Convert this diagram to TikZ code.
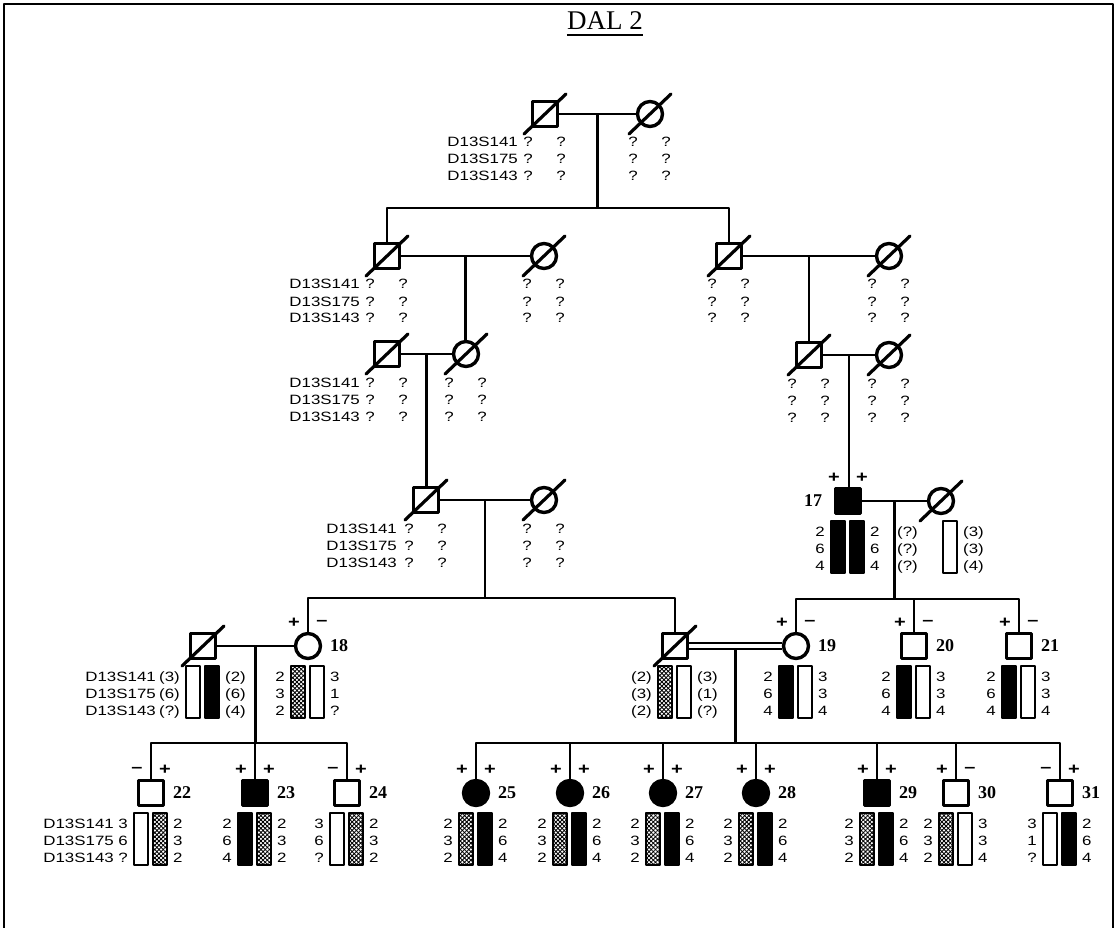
\documentclass[tikz,border=0pt]{standalone}
\usepackage{fontspec}
\setmainfont{Liberation Serif}
\newfontfamily\labfont[FakeStretch=1.25]{Liberation Sans}
\usetikzlibrary{calc, patterns.meta}

\begin{document}
\begin{tikzpicture}[x=1pt, y=-1pt, line join=round,
    conn/.style={line width=2.3pt},
    person/.style={draw, line width=3.4pt, minimum size=25pt, inner sep=0pt},
    male/.style={person, rectangle},
    female/.style={person, circle},
    aff/.style={fill=black},
    slash/.style={line width=3.2pt, line cap=round},
    lab/.style={font=\labfont\fontsize{13.5}{15}\selectfont, inner sep=0pt, anchor=base east},
    num/.style={font=\labfont\fontsize{13.5}{15}\selectfont, inner sep=0pt, anchor=base},
    sign/.style={font=\labfont\bfseries\fontsize{16}{18}\selectfont, inner sep=0pt},
    idlab/.style={font=\bfseries\fontsize{18}{20}\selectfont, inner sep=0pt},
    heading/.style={font=\fontsize{27}{30}\selectfont, inner sep=0pt, anchor=base},
    barw/.style={draw, line width=1.6pt, fill=white},
    barb/.style={draw, line width=1.6pt, fill=black},
    barh/.style={draw, line width=1.6pt, pattern={Lines[angle=45,distance=3pt,line width=.9pt]},
      postaction={pattern={Lines[angle=-45,distance=3pt,line width=.9pt]}}},
    barn/.style={}]
\useasboundingbox (0,0) rectangle (1117,928);
\draw[conn] (4,928) -- (4,4) -- (1113,4) -- (1113,928); % frame
\node[heading] (title) at (605,30) {DAL 2};
\draw[conn] ([yshift=-5pt]title.base west) -- ([yshift=-5pt]title.base east);

% generations I-IV
\node[male] (g1m) at (545,114) {};
\node[female] (g1f) at (650,114) {};
\node[male] (g2a) at (387,256) {};
\node[female] (g2b) at (544,256) {};
\node[male] (g2c) at (729,256) {};
\node[female] (g2d) at (889,256) {};
\node[male] (g3a) at (387,354) {};
\node[female] (g3b) at (466,354) {};
\node[male] (g3c) at (809,355) {};
\node[female] (g3d) at (889,355) {};
\node[male] (g4a) at (426,500) {};
\node[female] (g4b) at (544,500) {};
\node[male, aff] (p17) at (848,501) {};
\node[female] (p17w) at (941,501) {};
% generation IV
\node[male] (p18h) at (203,646) {};
\node[female] (p18) at (308,646) {};
\node[male] (p19h) at (675,646) {};
\node[female] (p19) at (796,646) {};
\node[male] (p20) at (914,646) {};
\node[male] (p21) at (1019,646) {};
% generation V
\node[male] (p22) at (151,793) {};
\node[male, aff] (p23) at (255,793) {};
\node[male] (p24) at (347,793) {};
\node[female, aff] (p25) at (476,793) {};
\node[female, aff] (p26) at (570,793) {};
\node[female, aff] (p27) at (663,793) {};
\node[female, aff] (p28) at (756,793) {};
\node[male, aff] (p29) at (877,793) {};
\node[male] (p30) at (956,793) {};
\node[male] (p31) at (1060,793) {};

% marriages and descent
\path
($(g1m)!0.5!(g1f)$) coordinate (m1)
($(g2a)!0.5!(g2b)$) coordinate (m2a)
($(g2c)!0.5!(g2d)$) coordinate (m2b)
($(g3a)!0.5!(g3b)$) coordinate (m3a)
($(g3c)!0.5!(g3d)$) coordinate (m3b)
($(g4a)!0.5!(g4b)$) coordinate (m4)
($(p17)!0.5!(p17w)$) coordinate (m17)
($(p18h)!0.5!(p18)$) coordinate (m18)
($(p19h)!0.5!(p19)$) coordinate (m19)
;
\path (m1) ++(0,94) coordinate (s1);
\path (m4) ++(0,98) coordinate (s4);
\path (m17) ++(0,98) coordinate (s17);
\path (m18) ++(0,97) coordinate (s18);
\path (m19) ++(0,97) coordinate (s19);
\foreach \a/\b in {g1m/g1f, g2a/g2b, g2c/g2d, g3a/g3b, g3c/g3d, g4a/g4b, p17/p17w, p18h/p18}
  \draw[conn] (\a) -- (\b);
\draw[conn] ([yshift=2.8pt]p19h.east) -- ([yshift=2.8pt]p19.west);
\draw[conn] ([yshift=-2.8pt]p19h.east) -- ([yshift=-2.8pt]p19.west);
\draw[conn] (m1) -- (s1);
\draw[conn] (g2a.north) |- (s1) -| (g2c.north);
\draw[conn] (m2a) -- (m2a |- g3b.north);
\draw[conn] (m2b) -- (m2b |- g3c.north);
\draw[conn] (m3a) -- (m3a |- g4a.north);
\draw[conn] (m3b) -- (m3b |- p17.north);
\draw[conn] (m4) -- (s4);
\draw[conn] (p18.north) |- (s4) -| (p19h.north);
\draw[conn] (m17) -- (s17);
\draw[conn] (p19.north) |- (s17) -| (p21.north);
\draw[conn] (s17 -| p20) -- (p20.north);
\draw[conn] (m18) -- (s18);
\draw[conn] (p22.north) |- (s18) -| (p24.north);
\draw[conn] (s18 -| p23) -- (p23.north);
\draw[conn] ([yshift=-2.8pt]m19) -- (s19);
\draw[conn] (p25.north) |- (s19) -| (p31.north);
\foreach \p in {p26,p27,p28,p29,p30}
  \draw[conn] (s19 -| \p) -- (\p.north);

% deceased
\foreach \p in {g1m,g1f,g2a,g2b,g2c,g2d,g3a,g3b,g3c,g3d,g4a,g4b,p17w,p18h,p19h}
  \draw[slash] (\p) ++(-21,20) -- ++(42,-40);

% marker names
\foreach \p/\dx/\dy in {g1m/27/33, g2a/27/33, g3a/27/33, g4a/29/33, p18h/47/35, p22/37/35}
  \path (\p) ++(-\dx,\dy) node[lab] {D13S141} ++(0,17) node[lab] {D13S175} ++(0,17) node[lab] {D13S143};

% unknown genotypes
\foreach \p in {g1m,g1f,g2a,g2b,g2c,g2d,g3a,g3b,g3c,g3d,g4a,g4b}
  \foreach \dx in {-17,16}
    \path (\p) ++(\dx,33) node[num] {?} ++(0,17) node[num] {?} ++(0,17) node[num] {?};

% haplotypes
\foreach \p/\bl/\br/\a/\b/\c/\d/\e/\f in {
    p17/barb/barb/2/6/4/2/6/4,
    p17w/barn/barw/{(?)}/{(?)}/{(?)}/{(3)}/{(3)}/{(4)},
    p18h/barw/barb/{(3)}/{(6)}/{(?)}/{(2)}/{(6)}/{(4)},
    p18/barh/barw/2/3/2/3/1/?,
    p19h/barh/barw/{(2)}/{(3)}/{(2)}/{(3)}/{(1)}/{(?)},
    p19/barb/barw/2/6/4/3/3/4,
    p20/barb/barw/2/6/4/3/3/4,
    p21/barb/barw/2/6/4/3/3/4,
    p22/barw/barh/3/6/?/2/3/2,
    p23/barb/barh/2/6/4/2/3/2,
    p24/barw/barh/3/6/?/2/3/2,
    p25/barh/barb/2/3/2/2/6/4,
    p26/barh/barb/2/3/2/2/6/4,
    p27/barh/barb/2/3/2/2/6/4,
    p28/barh/barb/2/3/2/2/6/4,
    p29/barh/barb/2/3/2/2/6/4,
    p30/barh/barw/2/3/2/3/3/4,
    p31/barw/barb/3/1/?/2/6/4}
{
  \path[\bl] (\p) ++(-17,20) rectangle ++(14,52);
  \path[\br] (\p) ++(2,20) rectangle ++(14,52);
  \path (\p) ++(-23,35) node[num, anchor=base east] {\a} ++(0,17) node[num, anchor=base east] {\b}
    ++(0,17) node[num, anchor=base east] {\c};
  \path (\p) ++(22,35) node[num, anchor=base west] {\d} ++(0,17) node[num, anchor=base west] {\e}
    ++(0,17) node[num, anchor=base west] {\f};
}

% linkage signs
\foreach \p/\s/\t in {p17/+/+, p18/+/–, p19/+/–, p20/+/–, p21/+/–, p22/–/+, p23/+/+, p24/–/+,
    p25/+/+, p26/+/+, p27/+/+, p28/+/+, p29/+/+, p30/+/–, p31/–/+}
  \path (\p) +(-14,-23) node[sign] {\s} +(14,-23) node[sign] {\t};

% pedigree numbers
\path (p17) +(-35,0) node[idlab] {17};
\foreach \n in {18,...,31}
  \path (p\n) +(31,0) node[idlab] {\n};
\end{tikzpicture}
\end{document}
